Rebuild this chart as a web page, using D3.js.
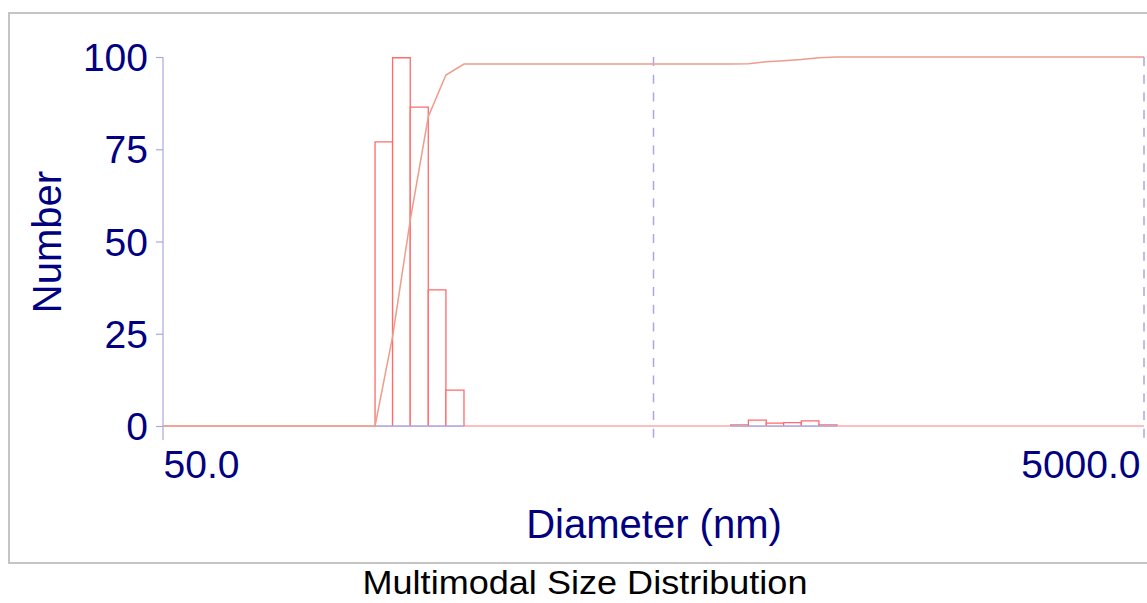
<html>
	<head>
		<meta content="text/html;charset=utf-8" http-equiv="Content-Type">
		<script src="https://d3js.org/d3.v7.min.js"></script>
		<style>
			body { margin: 0; background: white; }
			svg { display: block; }
			text { font-family: "Liberation Sans", Arial, sans-serif; }
		</style>
	</head>
	<body>
		<svg id="chart"></svg>
		<script>

			// size bins (nm) and number values
			var barLower = [135.3, 146.9, 159.6, 173.7, 188.7, 718.6, 780.6, 849.0, 921.0, 1000.6, 1087.0];
			var barUpper = [146.9, 159.6, 173.7, 188.7, 205.4, 780.6, 849.0, 921.0, 1000.6, 1087.0, 1183.0];
			var barValues = [77.0, 99.8, 86.4, 36.9, 9.7, 0.3, 1.6, 0.8, 0.9, 1.4, 0.3];
			// cumulative curve
			var cumDiameters = [50, 135.3, 146.9, 159.6, 173.7, 188.7, 205.4, 718.6, 780.6, 849.0, 921.0, 1000.6, 1087.0, 1183.0, 5000];
			var cumValues = [0, 0, 24.2, 55.8, 83.8, 95.1, 98.1, 98.1, 98.2, 98.7, 99.0, 99.3, 99.8, 100, 100];
			// ticks
			var yTicks = [0, 25, 50, 75, 100];
			var xLabelTicks = [50, 5000];
			var xGridTicks = [500, 5000];

			var width = 1147, height = 603;
			var navy = "#000080", lav = "#a8a8e0", red = "#ff6a6a";

			var svg = d3.select("#chart").attr("width", width).attr("height", height);

			var x = d3.scaleLog().domain([50, 5000]).range([163, 1144]);
			var y = d3.scaleLinear().domain([0, 100]).range([426, 57]);

			// outer frame
			svg.append("rect")
				.attr("x", 9).attr("y", 13)
				.attr("width", width).attr("height", 550)
				.attr("fill", "none")
				.style("stroke", "#c4c4c4")
				.style("stroke-width", 2);

			// dashed vertical grid lines
			svg.selectAll(".grid").data(xGridTicks).enter().append("line")
				.attr("x1", function(d){ return x(d); })
				.attr("x2", function(d){ return x(d); })
				.attr("y1", y(100)).attr("y2", 440)
				.style("stroke", lav)
				.style("stroke-width", 1.5)
				.style("stroke-dasharray", "9,8.7");

			// y axis line (runs past the baseline like a tick)
			svg.append("line")
				.attr("x1", x(50)).attr("x2", x(50))
				.attr("y1", y(100)).attr("y2", 440)
				.style("stroke", lav).style("stroke-width", 1.2);

			// baseline
			svg.append("line")
				.attr("x1", x(50)).attr("x2", x(5000))
				.attr("y1", y(0)).attr("y2", y(0))
				.style("stroke", "#ffa8a8").style("stroke-width", 1.5);

			// y axis ticks and labels
			var yAxis = d3.axisLeft(y).tickValues(yTicks).tickSize(7).tickPadding(8).tickSizeOuter(0);
			var gy = svg.append("g").attr("transform", "translate(" + x(50) + ",0)").call(yAxis);
			gy.select(".domain").remove();
			gy.selectAll("line").style("stroke", lav).style("stroke-width", 1.2);
			gy.selectAll("text")
				.style("font-size", "39px")
				.style("fill", navy)
				.attr("dy", "0.35em");

			// x axis labels (only the ends)
			var xAxis = d3.axisBottom(x).tickValues(xLabelTicks).tickSize(0).tickPadding(24)
				.tickFormat(d3.format(".1f"));
			var gx = svg.append("g").attr("transform", "translate(0," + y(0) + ")").call(xAxis);
			gx.select(".domain").remove();
			gx.selectAll("text")
				.style("font-size", "39px")
				.style("fill", navy)
				.attr("text-anchor", function(d, i){ return i == 0 ? "start" : "end"; })
				.attr("dx", function(d, i){ return i == 0 ? 0 : -4; });

			// bars: open at the bottom, white inside
			svg.selectAll(".bar").data(barValues).enter().append("path")
				.attr("d", function(d, i){
					var x0 = x(barLower[i]), x1 = x(barUpper[i]);
					return "M" + x0 + "," + y(0) + "L" + x0 + "," + y(d) + "L" + x1 + "," + y(d) + "L" + x1 + "," + y(0);
				})
				.attr("fill", "white")
				.style("stroke", red)
				.style("stroke-width", 1.3);

			// bottom edges of bars in axis colour
			svg.selectAll(".barbase").data(barValues).enter().append("line")
				.attr("x1", function(d, i){ return x(barLower[i]); })
				.attr("x2", function(d, i){ return x(barUpper[i]); })
				.attr("y1", y(0)).attr("y2", y(0))
				.style("stroke", lav).style("stroke-width", 1.5);

			// cumulative curve
			var line = d3.line()
				.x(function(d, i){ return x(cumDiameters[i]); })
				.y(function(d){ return y(d); });
			svg.append("path")
				.datum(cumValues)
				.attr("d", line)
				.attr("fill", "none")
				.style("stroke", "#ee9c8c")
				.style("stroke-width", 1.5);

			// axis titles
			svg.append("text")
				.attr("transform", "translate(61,242) rotate(-90)")
				.style("text-anchor", "middle")
				.style("font-size", "40px")
				.style("fill", navy)
				.text("Number");
			svg.append("text")
				.attr("x", 654).attr("y", 538)
				.style("text-anchor", "middle")
				.style("font-size", "40px")
				.style("fill", navy)
				.text("Diameter (nm)");

			// caption under the frame
			svg.append("text")
				.attr("x", 585).attr("y", 594)
				.style("text-anchor", "middle")
				.style("font-size", "34px")
				.style("fill", "#000")
				.attr("textLength", 445)
				.attr("lengthAdjust", "spacingAndGlyphs")
				.text("Multimodal Size Distribution");

		</script>
	</body>
</html>
